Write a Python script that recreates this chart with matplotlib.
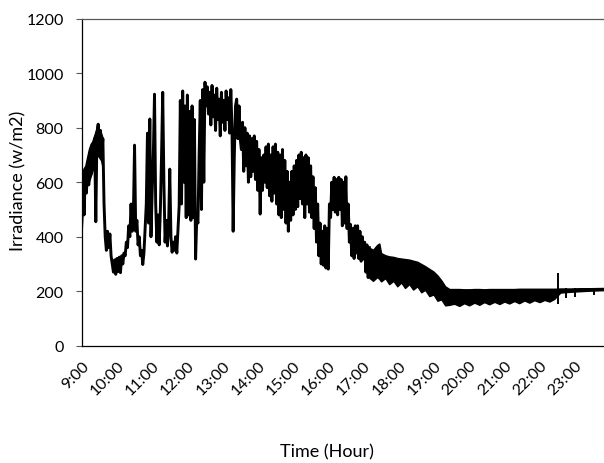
import numpy as np
import matplotlib
matplotlib.use("Agg")
import matplotlib.pyplot as plt

plt.rcParams['font.family'] = ['Lato', 'DejaVu Sans']

# Trace from 9:00 to 17:00, one reading every 2 minutes (w/m2)
trace_step_min = 2
trace_irr = [
    440, 640, 480, 620, 560, 660, 590, 690, 630, 730,
    660, 760, 455, 780, 813, 730, 790, 700, 760, 520,
    400, 350, 420, 360, 410, 330, 300, 270, 315, 262,
    320, 272, 325, 268, 330, 300, 340, 330, 380, 360,
    440, 400, 520, 420, 480, 736, 420, 460, 370, 400,
    330, 350, 298, 340, 430, 520, 780, 450, 832, 400,
    560, 700, 923, 520, 380, 480, 370, 500, 700, 930,
    600, 380, 460, 366, 440, 648, 400, 343, 380, 350,
    400, 340, 430, 513, 900, 520, 935, 600, 880, 470,
    920, 480, 860, 460, 880, 470, 830, 318, 470, 450,
    700, 900, 500, 940, 600, 967, 880, 950, 850, 930,
    810, 955, 840, 920, 790, 945, 830, 905, 770, 930,
    820, 900, 790, 935, 830, 910, 780, 940, 800, 420,
    700, 880, 905, 760, 880, 760, 720, 820, 640, 800,
    660, 780, 600, 770, 620, 760, 640, 770, 610, 750,
    570, 720, 483, 690, 570, 700, 600, 730, 580, 740,
    550, 700, 530, 730, 560, 740, 520, 710, 480, 700,
    470, 720, 500, 680, 450, 640, 420, 600, 460, 640,
    480, 660, 500, 680, 510, 700, 540, 710, 520, 690,
    470, 700, 520, 690, 490, 660, 470, 620, 430, 580,
    380, 520, 330, 450, 300, 420, 295, 440, 285, 430,
    281, 520, 470, 600, 500, 618, 490, 610, 480, 618,
    500, 610, 440, 600, 450, 620, 430, 520, 380, 445,
    330, 430, 320, 440, 340, 440, 320, 420, 310, 400,
    318, 380, 270, 370, 250, 360,
]

# 9:00 - 9:36: envelope of the dense morning noise (hour, low, high)
early_hour = [9.00, 9.05, 9.10, 9.15, 9.20, 9.25, 9.30, 9.35, 9.40, 9.45,
              9.50, 9.55, 9.60]
early_low = [440, 560, 580, 590, 600, 620, 640, 660, 680, 700, 690, 680, 650]
early_high = [620, 650, 660, 690, 720, 740, 750, 770, 790, 813, 790, 780, 760]

# 17:10 onwards: envelope of the dense noisy signal (hour, low, high)
band_hour = [
    17.16, 17.27, 17.39, 17.45, 17.50, 17.62, 17.73, 17.85, 17.96, 18.07,
    18.18, 18.30, 18.41, 18.53, 18.64, 18.75, 18.87, 18.99, 19.10, 19.21,
    19.32, 19.44, 19.58, 19.72, 19.86, 20.00, 20.15, 20.29, 20.43, 20.57,
    20.72, 20.86, 21.00, 21.14, 21.28, 21.42, 21.57, 21.71, 21.85, 22.00,
    22.14, 22.28, 22.42, 22.59, 22.88, 23.15, 23.44, 23.84,
]
band_low = [
    250, 238, 252, 245, 236, 248, 226, 238, 218, 232,
    212, 226, 206, 218, 196, 205, 182, 188, 165, 170,
    148, 150, 154, 146, 156, 148, 158, 150, 160, 152,
    161, 153, 162, 155, 164, 156, 166, 158, 167, 160,
    168, 162, 172, 195, 198, 200, 202, 204,
]
band_high = [
    360, 352, 370, 375, 340, 332, 328, 326, 322, 320,
    318, 316, 312, 308, 300, 292, 282, 272, 258, 240,
    218, 208, 208, 208, 207, 207, 208, 208, 207, 208,
    208, 208, 208, 208, 208, 209, 209, 209, 209, 209,
    209, 209, 209, 210, 210, 211, 211, 212,
]

# Isolated spikes in the evening (hour, low, high)
spike_hour = [22.53, 22.76, 23.01, 23.55]
spike_low = [153, 175, 180, 185]
spike_high = [267, 210, 210, 211]

tick_labels = ["9:00", "10:00", "11:00", "12:00", "13:00", "14:00", "15:00",
               "16:00", "17:00", "18:00", "19:00", "20:00", "21:00", "22:00",
               "23:00"]

trace_hour = 9 + np.arange(len(trace_irr)) * trace_step_min / 60

fig = plt.figure(figsize=(6.04, 4.64), dpi=100)
ax = fig.add_axes([0.1353, 0.2528, 0.8647, 0.7047])

ax.plot(trace_hour, trace_irr, color='black', lw=2.1)
ax.fill_between(early_hour, early_low, early_high, color='black', lw=1.0,
                edgecolor='black')
ax.fill_between(band_hour, band_low, band_high, color='black', lw=1.0,
                edgecolor='black')
ax.vlines(spike_hour, spike_low, spike_high, color='black', lw=1.4)

ax.set_xlim(9, 23.83)
ax.set_ylim(0, 1200)
ax.set_yticks(range(0, 1201, 200))
ax.set_xticks(range(9, 24))
ax.set_xticklabels(tick_labels, rotation=45, ha='right',
                   rotation_mode='anchor', fontsize=11.5)
ax.tick_params(axis='x', length=0, pad=9)
ax.tick_params(axis='y', length=4, width=0.8, color='#595959',
               labelsize=11.5, pad=9)

for side in ['left', 'bottom']:
    ax.spines[side].set_color('black')
    ax.spines[side].set_linewidth(0.9)
ax.spines['top'].set_color('#595959')
ax.spines['top'].set_linewidth(0.9)
ax.spines['right'].set_visible(False)

fig.text(0.542, 0.026, "Time (Hour)", ha='center', va='center', fontsize=13)
fig.text(0.03, 0.61, "Irradiance (w/m2)", ha='center', va='center',
         rotation=90, fontsize=13)

fig.savefig("out.png", dpi=100)
